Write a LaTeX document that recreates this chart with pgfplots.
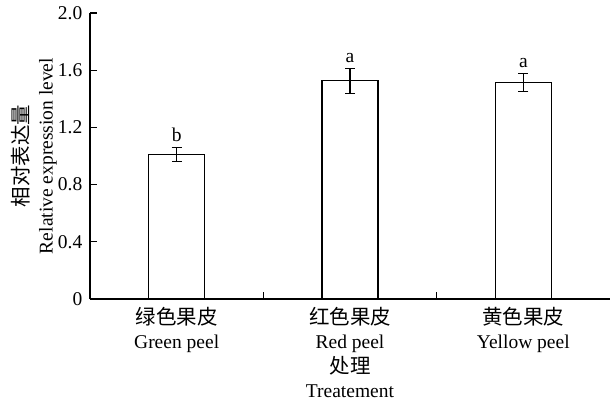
\documentclass[border=0pt]{standalone}
\usepackage{pgfplots}
\pgfplotsset{compat=1.18}
\usepackage{fontspec}
\setmainfont{Liberation Serif}
\newfontfamily\cjk[Scale=1.05]{Noto Sans CJK SC}
\begin{document}
\fontsize{19.5}{24}\selectfont
\begin{tikzpicture}[font=\fontsize{19.5}{24}\selectfont]
\useasboundingbox (-90pt,-103pt) rectangle (522pt,299pt);
\begin{axis}[
  scale only axis, width=520pt, height=286pt,
  at={(0,0)}, anchor=south west,
  xmin=-0.5, xmax=2.5, ymin=0, ymax=2,
  axis x line*=bottom, axis y line*=left,
  axis line style={line width=1.1pt, -},
  every tick/.style={line width=1.1pt, black},
  tick align=inside,
  major tick length=7pt,
  xtick={0.5,1.5}, xticklabels={},
  extra x ticks={0,1,2},
  extra x tick labels={{\cjk 绿色果皮}\\Green peel, {\cjk 红色果皮}\\Red peel, {\cjk 黄色果皮}\\Yellow peel},
  extra x tick style={tick style={draw=none}, xticklabel style={align=center, yshift=-2pt}},
  ytick={0,0.4,0.8,1.2,1.6,2.0},
  yticklabels={0,0.4,0.8,1.2,1.6,2.0},
  yticklabel style={xshift=-1pt},
  ylabel={{\cjk 相对表达量}\\Relative expression level},
  ylabel style={align=center, at={([xshift=-56pt]rel axis cs:0,0.5)}, anchor=center},
  xlabel={{\cjk 处理}\\Treatement},
  xlabel style={align=center, at={([yshift=-78pt]rel axis cs:0.5,0)}, anchor=center},
  clip=false,
]
\addplot[ybar, bar width=56pt, fill=white, draw=black, line width=1.1pt,
  error bars/.cd, y dir=both, y explicit,
  error bar style={line width=1.1pt, black},
  error mark options={rotate=90, mark size=5pt, line width=1.1pt, black}]
  coordinates {(0,1.01) +- (0,0.05) (1,1.525) +- (0,0.085) (2,1.515) +- (0,0.065)};
\addplot[draw=none, mark=none, nodes near coords, point meta=explicit symbolic,
  nodes near coords style={anchor=base, yshift=6pt, inner sep=0pt}]
  table[meta=l] {
x y l
0 1.06 b
1 1.61 a
2 1.58 a
};
\end{axis}
\end{tikzpicture}
\end{document}
